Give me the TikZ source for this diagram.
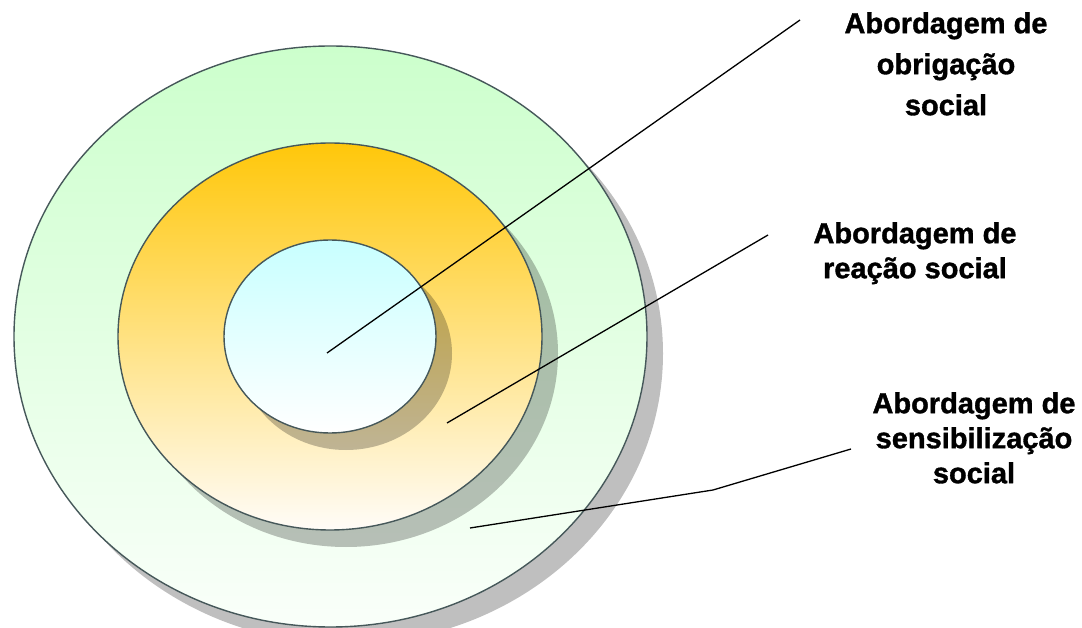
\documentclass[tikz,border=0pt]{standalone}
\usepackage{fontspec}
\setmainfont{Liberation Sans}[BoldFeatures={FakeBold=1.2}]
\usetikzlibrary{shapes.geometric,shadows}
\definecolor{rimcol}{HTML}{46585A}
\definecolor{greentop}{HTML}{CCFFCC}
\definecolor{greenbot}{HTML}{FAFFFA}
\definecolor{goldtop}{HTML}{FFC70A}
\definecolor{goldbot}{HTML}{FFFCF8}
\definecolor{cyantop}{HTML}{C8FFFF}
\definecolor{cyanbot}{HTML}{FFFFFF}
\tikzset{
  ring/.style={ellipse, draw=rimcol, line width=1.4pt, inner sep=0pt, outer sep=0pt,
    drop shadow={shadow xshift=16pt, shadow yshift=-17pt, opacity=0.25, fill=black}},
  leader/.style={draw=black, line width=1.3pt},
  lbl/.style={align=center, inner sep=0pt, anchor=north, text=black},
}
\begin{document}
\begin{tikzpicture}[x=1pt,y=-1pt]
\useasboundingbox (0,0) rectangle (1082,628);
\node[ring, minimum width=633pt, minimum height=581pt, top color=greentop, bottom color=greenbot] (outer) at (330.5,336.5) {};
\node[ring, minimum width=424pt, minimum height=387pt, top color=goldtop, bottom color=goldbot] (middle) at (330,336.5) {};
\node[ring, minimum width=212pt, minimum height=193pt, top color=cyantop, bottom color=cyanbot] (inner) at (330,336.5) {};

\node[lbl, font=\fontsize{29}{41}\selectfont\bfseries] (l1) at (946,12) {Abordagem de\\obrigação\\social};
\node[lbl, font=\fontsize{29}{35}\selectfont\bfseries] (l2) at (915,222) {Abordagem de\\reação social};
\node[lbl, font=\fontsize{29}{35}\selectfont\bfseries] (l3) at (974,392) {Abordagem de\\sensibilização\\social};

\coordinate (s1) at (327,353);
\coordinate (e1) at (800,20);
\coordinate (s2) at (447,423);
\coordinate (e2) at (768,235);
\coordinate (s3) at (470,528);
\coordinate (b3) at (713,490);
\coordinate (e3) at (851,449);
\draw[leader] (s1) -- (e1);
\draw[leader] (s2) -- (e2);
\draw[leader] (s3) -- (b3) -- (e3);
\end{tikzpicture}
\end{document}
